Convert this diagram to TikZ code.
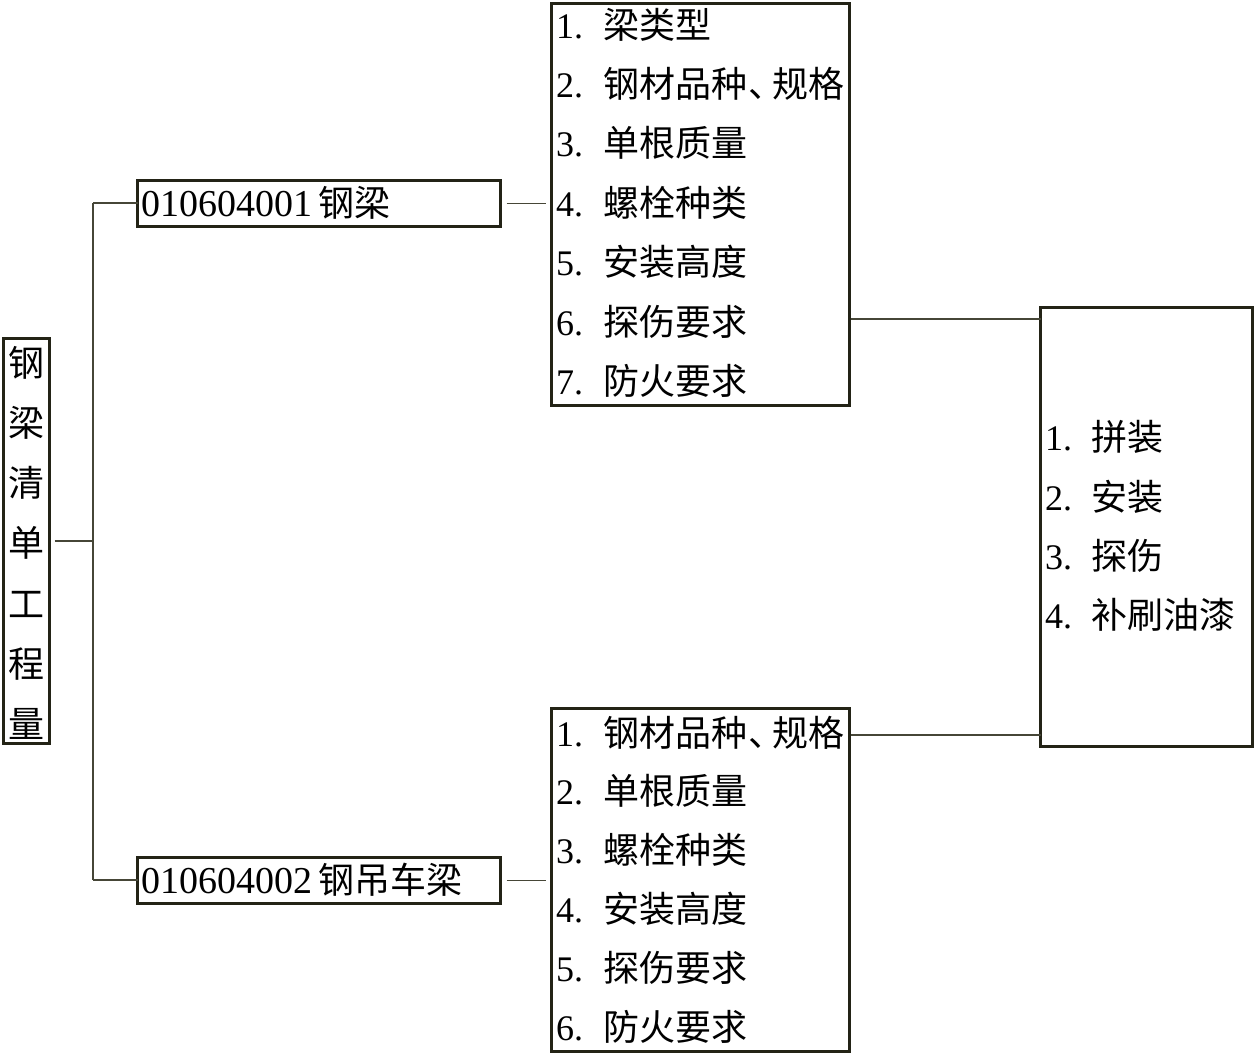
\documentclass[tikz,border=0pt]{standalone}
\usepackage{fontspec}
\setmainfont{Liberation Serif}
\newfontfamily\cjk{Noto Sans CJK SC}
\definecolor{boxcol}{RGB}{35,35,22}
\definecolor{linecol}{RGB}{70,70,55}
\begin{document}
\begin{tikzpicture}[x=1pt,y=-1pt,
  box/.style={draw=boxcol,line width=3pt,inner sep=0pt,outer sep=0pt,rectangle,fill=white},
  conn/.style={draw=linecol,line width=1.4pt},
  txt/.style={inner sep=0pt,outer sep=0pt,anchor=base west,font=\fontsize{36}{40}\selectfont},
  vch/.style={inner sep=0pt,outer sep=0pt,anchor=base,font=\fontsize{36}{40}\selectfont\cjk}]
\useasboundingbox[fill=white] (0,0) rectangle (1256,1055);
\newcommand{\itm}[2]{\makebox[47pt][l]{#1}{\cjk #2}}
% boxes
\node[box,minimum width=46pt,minimum height=405pt] (L) at (26.5,541) {};
\node[box,minimum width=363pt,minimum height=46pt] (b1) at (319,203.5) {};
\node[box,minimum width=363pt,minimum height=46pt] (b2) at (319,880.5) {};
\node[box,minimum width=298pt,minimum height=402pt] (b3) at (700.5,204.5) {};
\node[box,minimum width=298pt,minimum height=343pt] (b4) at (700.5,880) {};
\node[box,minimum width=212pt,minimum height=439pt] (R) at (1146.5,527) {};
% left vertical title
\foreach \c [count=\i from 0] in {钢,梁,清,单,工,程,量}
  \node[vch] (Lc\i) at (26.5,{376+60.3*\i}) {\c};
% code boxes
\node[txt] (b1t) at (141,216) {\fontsize{38}{40}\selectfont 010604001\hspace{6pt}{\fontsize{36}{40}\selectfont\cjk 钢梁}};
\node[txt] (b2t) at (141,893) {\fontsize{38}{40}\selectfont 010604002\hspace{6pt}{\fontsize{36}{40}\selectfont\cjk 钢吊车梁}};
% box 3 items
\node[txt] (b3i1) at (556,38) {\itm{1.}{梁类型}};
\node[txt] (b3i2) at (556,97.4) {\itm{2.}{钢材品种\kern2pt、\kern-13pt规格}};
\node[txt] (b3i3) at (556,156.8) {\itm{3.}{单根质量}};
\node[txt] (b3i4) at (556,216.2) {\itm{4.}{螺栓种类}};
\node[txt] (b3i5) at (556,275.6) {\itm{5.}{安装高度}};
\node[txt] (b3i6) at (556,335) {\itm{6.}{探伤要求}};
\node[txt] (b3i7) at (556,394.4) {\itm{7.}{防火要求}};
% box 4 items
\node[txt] (b4i1) at (556,746) {\itm{1.}{钢材品种\kern2pt、\kern-13pt规格}};
\node[txt] (b4i2) at (556,804.8) {\itm{2.}{单根质量}};
\node[txt] (b4i3) at (556,863.6) {\itm{3.}{螺栓种类}};
\node[txt] (b4i4) at (556,922.4) {\itm{4.}{安装高度}};
\node[txt] (b4i5) at (556,981.2) {\itm{5.}{探伤要求}};
\node[txt] (b4i6) at (556,1040) {\itm{6.}{防火要求}};
% right box items
\node[txt] (Ri1) at (1045,450) {\makebox[46pt][l]{1.}{\cjk 拼装}};
\node[txt] (Ri2) at (1045,510) {\makebox[46pt][l]{2.}{\cjk 安装}};
\node[txt] (Ri3) at (1045,569) {\makebox[46pt][l]{3.}{\cjk 探伤}};
\node[txt] (Ri4) at (1045,628) {\makebox[46pt][l]{4.}{\cjk 补刷油漆}};
% connectors
\coordinate (tm) at (93,541);
\coordinate (t1) at (93,203);
\coordinate (t2) at (93,880);
\draw[conn,shorten <=5pt] (L.east |- tm) -- (tm);
\draw[conn] (t1) -- (t2);
\draw[conn] (t1) -- (b1.west |- t1);
\draw[conn] (t2) -- (b2.west |- t2);
\draw[conn,shorten <=6pt,shorten >=6pt] (b1.east) -- (b3.west |- b1.east);
\draw[conn,shorten <=6pt,shorten >=6pt] (b2.east) -- (b4.west |- b2.east);
\coordinate (c3) at (851,319);
\coordinate (c4) at (851,735);
\draw[conn] (c3) -- (R.west |- c3);
\draw[conn] (c4) -- (R.west |- c4);
\end{tikzpicture}
\end{document}
